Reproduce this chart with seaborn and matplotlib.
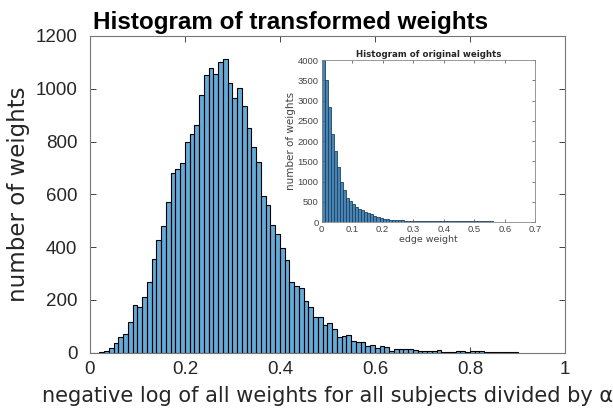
import numpy as np
import pandas as pd
import matplotlib
matplotlib.use("Agg")
import matplotlib.pyplot as plt
import seaborn as sns

# main histogram: transformed weights, bin width 0.01 starting at 0
main_counts = [0, 1, 3, 5, 18, 36, 61, 72, 115, 182,
               175, 213, 268, 354, 429, 481, 572, 679, 697, 720,
               798, 829, 864, 978, 1052, 1077, 1054, 1103, 1112, 1020,
               966, 1001, 936, 850, 778, 722, 592, 559, 483, 448,
               395, 350, 268, 254, 247, 197, 172, 134, 134, 106,
               111, 90, 58, 63, 66, 43, 42, 39, 24, 28,
               18, 27, 22, 8, 14, 15, 13, 15, 10, 6,
               5, 8, 6, 9, 4, 4, 3, 5, 5, 3,
               5, 6, 6, 4, 3, 2, 2, 4, 4, 2]
main_width = 0.01

# inset histogram: original edge weights, bin width 0.01
inset_counts = [4000, 3500, 2830, 2180, 1760, 1370, 990, 790, 590, 520,
                450, 380, 330, 290, 250, 215, 190, 150, 118, 100,
                85, 70, 60, 52, 47, 42, 40, 37, 35, 33,
                32, 30, 28, 27, 26, 25, 24, 23, 22, 22,
                21, 20, 20, 19, 18, 18, 17, 17, 16, 15,
                16, 15, 14, 14, 13, 13, 12, 12, 12, 11,
                11, 10, 11, 10, 9, 10, 9, 8]
inset_width = 0.01

main_xticks = [0, 0.2, 0.4, 0.6, 0.8, 1]
main_xticklabels = ["0", "0.2", "0.4", "0.6", "0.8", "1"]
main_yticks = [0, 200, 400, 600, 800, 1000, 1200]
inset_xticks = [0, 0.1, 0.2, 0.3, 0.4, 0.5, 0.6, 0.7]
inset_xticklabels = ["0", "0.1", "0.2", "0.3", "0.4", "0.5", "0.6", "0.7"]
inset_yticks = [0, 500, 1000, 1500, 2000, 2500, 3000, 3500, 4000]

sns.set_style("ticks")
plt.rcParams['font.family'] = ['Liberation Sans', 'DejaVu Sans']
plt.rcParams['xtick.direction'] = 'in'
plt.rcParams['ytick.direction'] = 'in'

bar_face = "#0072bd"
axis_col = "#262626"

main_edges = [round(i * main_width, 4) for i in range(len(main_counts) + 1)]
main_df = pd.DataFrame({"x": [e + main_width / 2 for e in main_edges[:-1]], "n": main_counts})
inset_edges = [round(i * inset_width, 4) for i in range(len(inset_counts) + 1)]
inset_df = pd.DataFrame({"x": [e + inset_width / 2 for e in inset_edges[:-1]], "n": inset_counts})

fig = plt.figure(figsize=(6.13, 4.16), dpi=100)
ax = fig.add_axes([0.1468, 0.152, 0.7749, 0.7616])

sns.histplot(data=main_df, x="x", weights="n", bins=main_edges, ax=ax,
             color=bar_face, alpha=0.6, edgecolor="black", linewidth=0.8)
ax.set_xlim(0, 1)
ax.set_ylim(0, 1200)
ax.set_xticks(main_xticks)
ax.set_xticklabels(main_xticklabels)
ax.set_yticks(main_yticks)
ax.tick_params(axis="both", labelsize=13.5, colors=axis_col, length=4, width=0.6,
               top=True, right=True)
ax.tick_params(axis="y", pad=9)
ax.tick_params(axis="x", pad=6)
for s in ax.spines.values():
    s.set_color("#777777")
    s.set_linewidth(0.8)
ax.set_title("Histogram of transformed weights", fontsize=17.5, fontweight="bold",
             color="black", pad=5, x=0.423)
ax.set_xlabel("negative log of all weights for all subjects divided by α",
              fontsize=15, color=axis_col, family=["DejaVu Sans"], labelpad=6)
ax.set_ylabel("number of weights", fontsize=16.5, color=axis_col,
              family=["DejaVu Sans"], labelpad=4)

# inset
ins = fig.add_axes([0.5245, 0.4663, 0.3488, 0.3894])
sns.histplot(data=inset_df, x="x", weights="n", bins=inset_edges, ax=ins,
             color="#2a6fa5", alpha=0.85, edgecolor="#1c4466", linewidth=0.6)
ins.set_xlim(0, 0.7)
ins.set_ylim(0, 4000)
ins.set_xticks(inset_xticks)
ins.set_xticklabels(inset_xticklabels)
ins.set_yticks(inset_yticks)
ins.tick_params(axis="both", labelsize=6.8, colors="#444444", length=2, width=0.5,
                top=True, right=True, pad=2)
for s in ins.spines.values():
    s.set_color("#888888")
    s.set_linewidth(0.6)
ins.set_title("Histogram of original weights", fontsize=6.2, fontweight="bold",
              pad=2, family=["DejaVu Sans"])
ins.set_xlabel("edge weight", fontsize=6.8, color="#444444",
               family=["DejaVu Sans"], labelpad=1)
ins.set_ylabel("number of weights", fontsize=7.5, color="#444444",
               family=["DejaVu Sans"], labelpad=1)

fig.savefig("out.png", dpi=100)
